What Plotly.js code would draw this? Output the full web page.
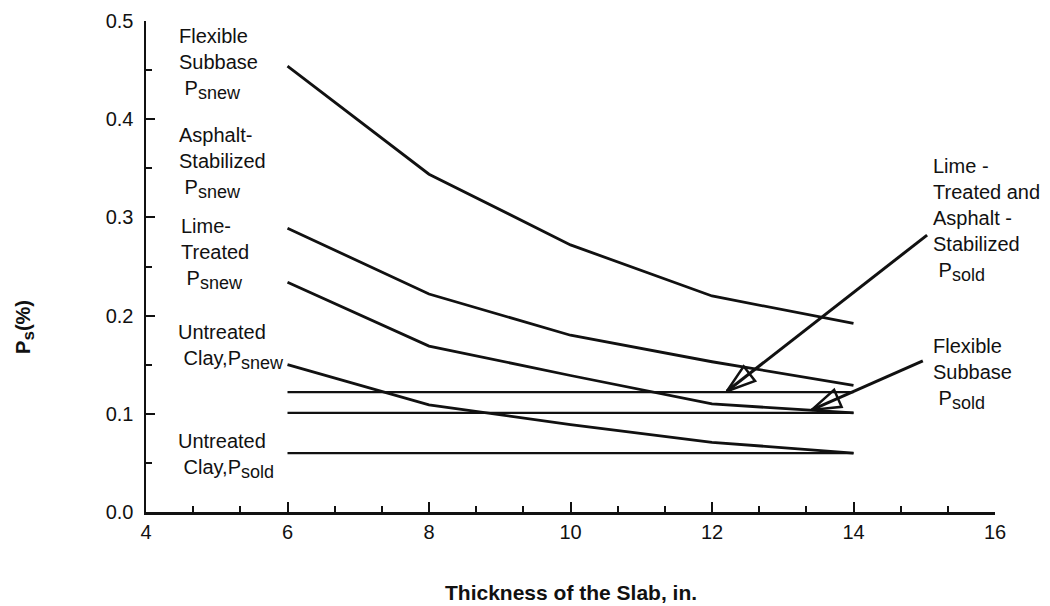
<!DOCTYPE html>
<html>
<head>
<meta charset="utf-8">
<script src="https://cdn.plot.ly/plotly-3.0.1.min.js"></script>
<style>html,body{margin:0;padding:0;background:#fff;}#chart{width:1050px;height:606px;}</style>
</head>
<body>
<div id="chart"></div>
<script>
// Data
const thickness = [6, 8, 10, 12, 14];
const flexibleSubbaseNew = [0.454, 0.344, 0.272, 0.220, 0.192];
const asphaltStabilizedNew = [0.289, 0.222, 0.180, 0.153, 0.129];
const limeTreatedNew = [0.234, 0.169, 0.139, 0.110, 0.101];
const untreatedClayNew = [0.150, 0.109, 0.089, 0.071, 0.060];
const limeAsphaltOld = [0.122, 0.122, 0.122, 0.122, 0.122];
const flexibleSubbaseOld = [0.101, 0.101, 0.101, 0.101, 0.101];
const untreatedClayOld = [0.060, 0.060, 0.060, 0.060, 0.060];

// Arrows: [x, y] of tail and tip
const arrowLimeTail = [15.04, 0.282];
const arrowLimeTip = [12.21, 0.123];
const arrowFlexTail = [14.98, 0.154];
const arrowFlexTip = [13.41, 0.104];

const xTickVals = [4, 6, 8, 10, 12, 14, 16];
const yTickVals = [0.0, 0.1, 0.2, 0.3, 0.4, 0.5];
const yTickText = ['0.0', '0.1', '0.2', '0.3', '0.4', '0.5'];

const FONT = 'Liberation Sans, Arial, Helvetica, sans-serif';
const INK = '#111111';

const series = [flexibleSubbaseNew, asphaltStabilizedNew, limeTreatedNew, untreatedClayNew];
const flatSeries = [limeAsphaltOld, flexibleSubbaseOld, untreatedClayOld];

const traces = [];
series.forEach(s => traces.push({
  x: thickness, y: s, mode: 'lines', type: 'scatter',
  line: {color: INK, width: 2.8}, hoverinfo: 'skip'
}));
flatSeries.forEach(s => traces.push({
  x: thickness, y: s, mode: 'lines', type: 'scatter',
  line: {color: INK, width: 2.3}, hoverinfo: 'skip'
}));
[[arrowLimeTail, arrowLimeTip], [arrowFlexTail, arrowFlexTip]].forEach(([a, b]) => {
  traces.push({
    x: [a[0], b[0]], y: [a[1], b[1]], mode: 'lines', type: 'scatter',
    line: {color: INK, width: 3}, hoverinfo: 'skip'
  });
  traces.push({
    x: [a[0], b[0]], y: [a[1], b[1]], mode: 'markers', type: 'scatter',
    marker: {symbol: 'arrow-open', size: [0, 30], angleref: 'previous',
             color: INK, opacity: 1, line: {color: INK, width: 2.5}},
    hoverinfo: 'skip'
  });
});

const sub = t => '<sub><span style="font-size:18px">' + t + '</span></sub>';

const lbl = (text, x, y) => ({
  text: text, x: x, y: y, xref: 'x', yref: 'y', showarrow: false,
  xanchor: 'left', yanchor: 'middle', align: 'left',
  font: {family: FONT, size: 20, color: INK}
});

const annotations = [
  lbl('Flexible<br>Subbase<br> P' + sub('snew'), 4.44, 0.456),
  lbl('Asphalt-<br>Stabilized<br> P' + sub('snew'), 4.44, 0.355),
  lbl('Lime-<br>Treated<br> P' + sub('snew'), 4.46, 0.263),
  lbl('Untreated<br> Clay,P' + sub('snew'), 4.42, 0.168),
  lbl('Untreated<br> Clay,P' + sub('sold'), 4.42, 0.057),
  lbl('Lime -<br>Treated and<br>Asphalt -<br>Stabilized<br> P' + sub('sold'), 15.1, 0.2975),
  lbl('Flexible<br>Subbase<br> P' + sub('sold'), 15.1, 0.141),
  {text: '<b>Thickness of the Slab, in.</b>', xref: 'paper', yref: 'paper', x: 0.5, y: -0.164,
   xanchor: 'center', yanchor: 'middle', showarrow: false,
   font: {family: FONT, size: 21, color: INK}},
  {text: '<b>P<sub><span style="font-size:17px">s</span></sub>(%)</b>', xref: 'paper', yref: 'paper', x: -0.1425, y: 0.377,
   xanchor: 'center', yanchor: 'middle', showarrow: false, textangle: -90,
   font: {family: FONT, size: 20, color: INK}}
];

const layout = {
  width: 1050, height: 606,
  margin: {l: 146, r: 55, t: 21, b: 93.5},
  paper_bgcolor: '#fff', plot_bgcolor: '#fff',
  showlegend: false,
  xaxis: {
    range: [4, 16], tickvals: xTickVals, ticktext: xTickVals.map(String),
    showgrid: false, zeroline: false, showline: true, linecolor: INK, linewidth: 2.5,
    ticks: 'inside', ticklen: 10, tickwidth: 2, tickcolor: INK,
    minor: {dtick: 2/3, tick0: 4, ticks: 'inside', ticklen: 6, tickwidth: 2, tickcolor: INK, showgrid: false},
    tickfont: {family: FONT, size: 20, color: INK}
  },
  yaxis: {
    range: [0, 0.5], tickvals: yTickVals, ticktext: yTickText,
    showgrid: false, zeroline: false, showline: true, linecolor: INK, linewidth: 2.5,
    ticks: 'inside', ticklen: 9, tickwidth: 2, tickcolor: INK,
    minor: {dtick: 0.05, tick0: 0, ticks: 'inside', ticklen: 6, tickwidth: 2, tickcolor: INK, showgrid: false},
    ticklabelstandoff: 6,
    tickfont: {family: FONT, size: 20, color: INK}
  },
  annotations: annotations
};

Plotly.newPlot('chart', traces, layout, {staticPlot: true, displayModeBar: false});
</script>
</body>
</html>
